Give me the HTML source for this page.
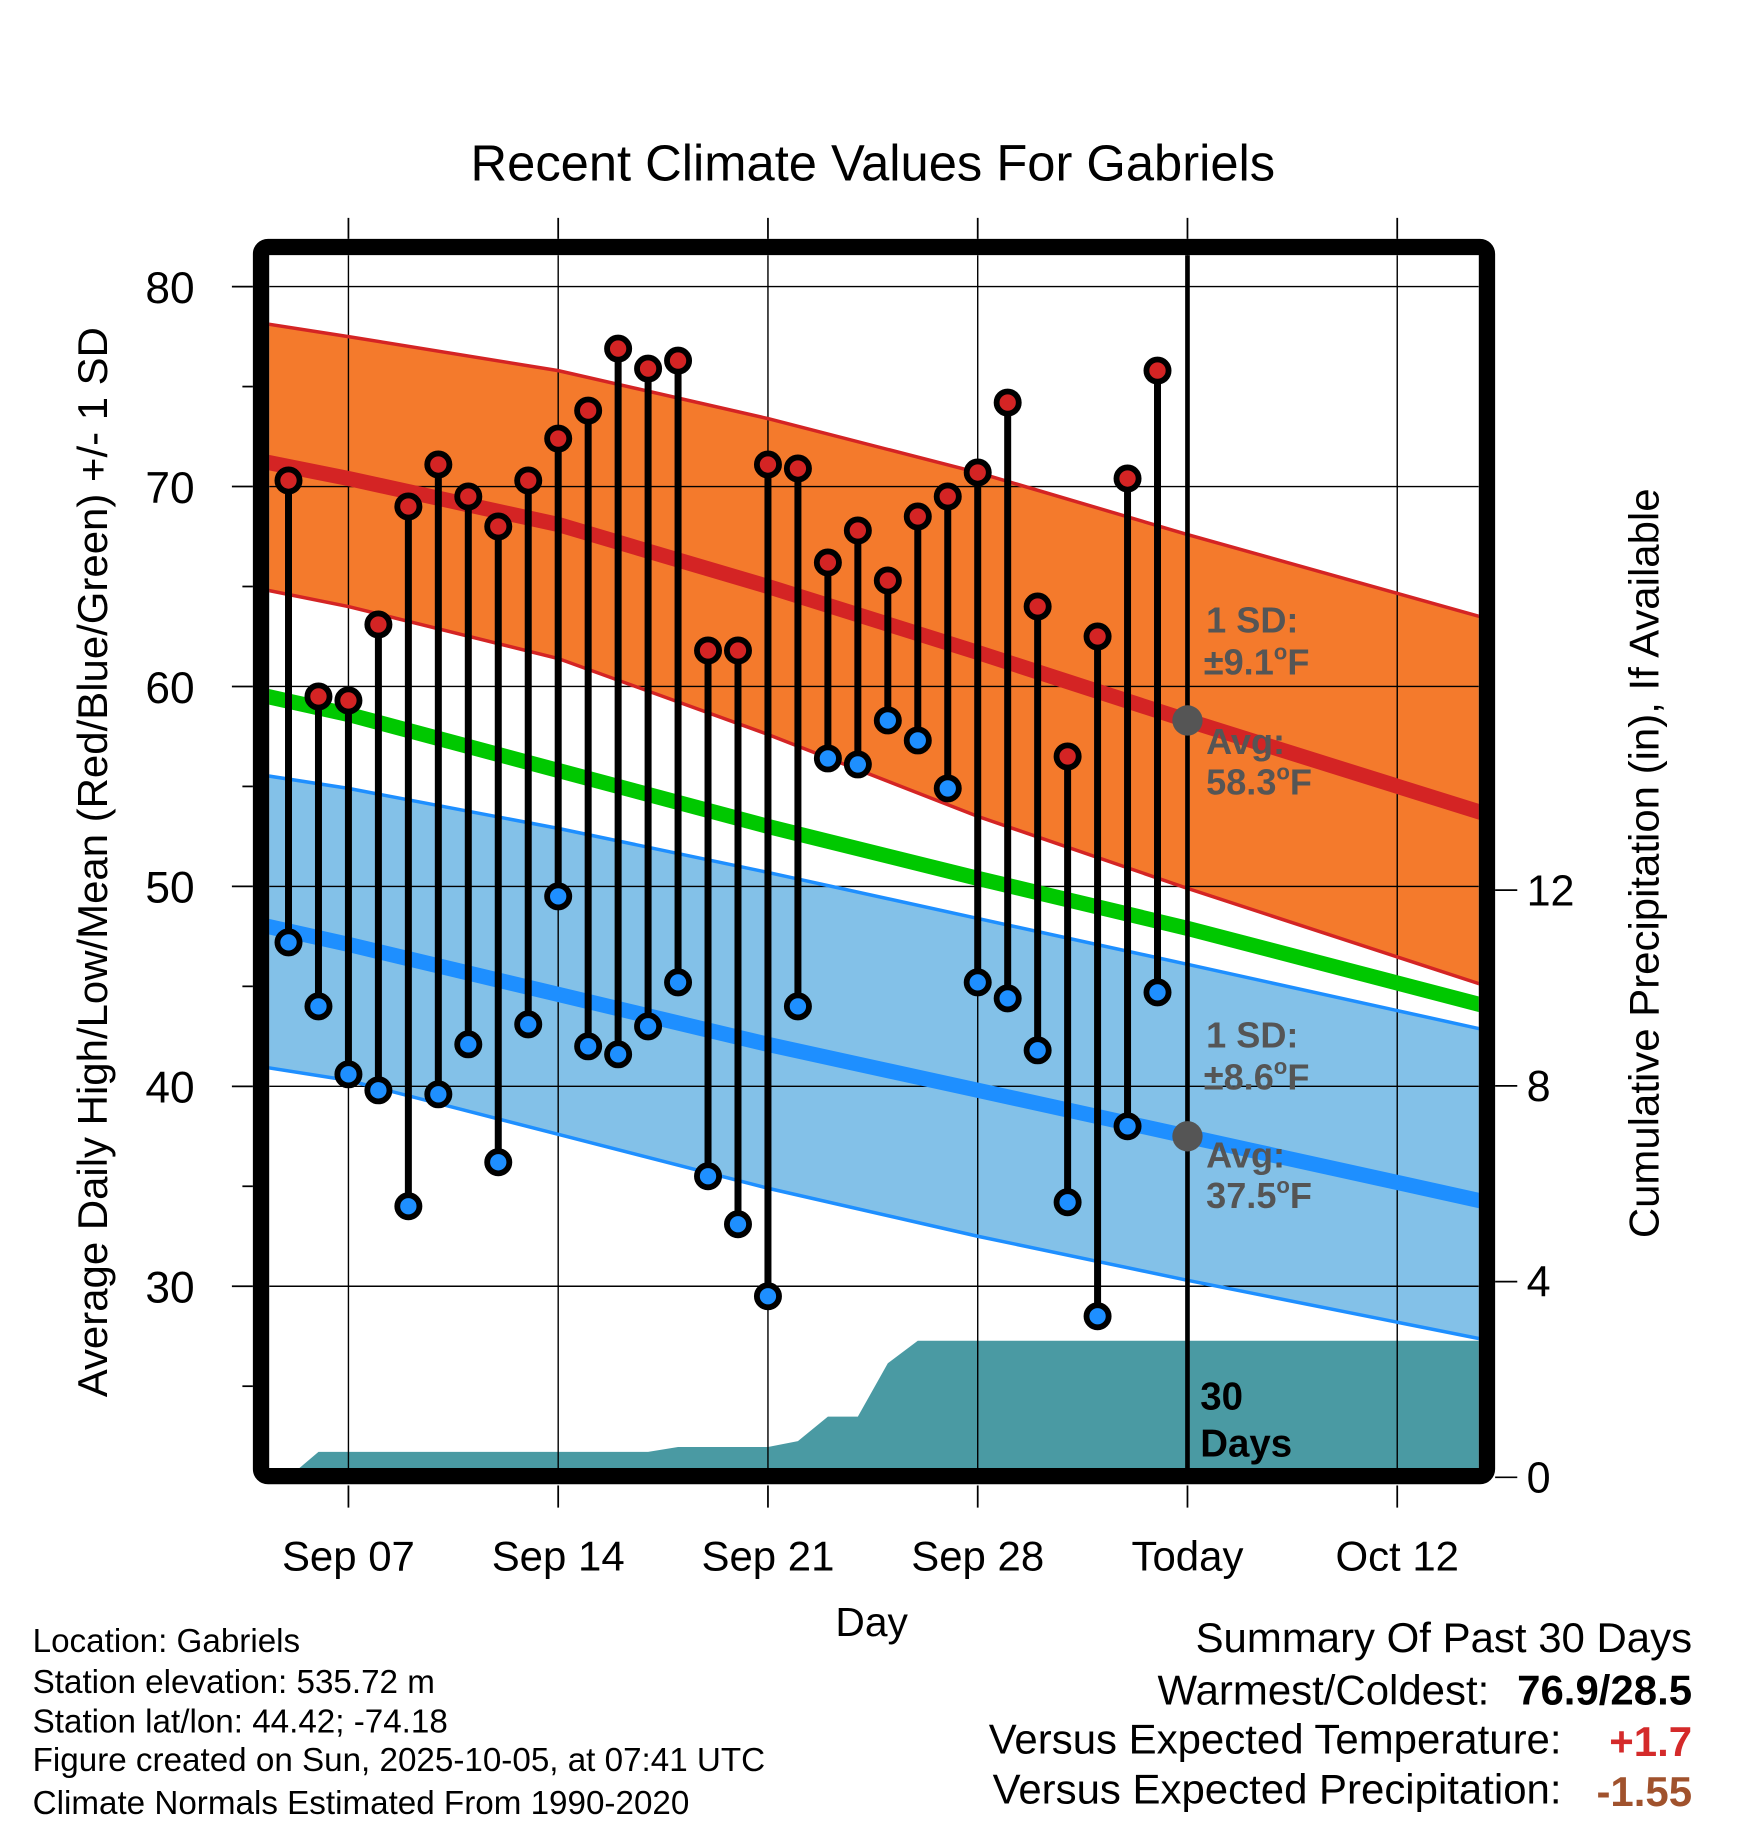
<!DOCTYPE html>
<html><head><meta charset="utf-8">
<style>
html,body{margin:0;padding:0;background:#fff;}
svg{display:block;font-family:"Liberation Sans",Arial,sans-serif;}
</style></head>
<body>
<svg id="chart" width="1748" height="1828" viewBox="0 0 1500 1569" preserveAspectRatio="none" xmlns="http://www.w3.org/2000/svg">
<rect x="0" y="0" width="1500" height="1569" fill="#fff"/>
<defs><clipPath id="plotclip"><rect x="231" y="219" width="1038" height="1041"/></clipPath></defs>
<g id="plot" clip-path="url(#plotclip)"></g>
<g id="axes"></g>
<text x="749" y="155" font-size="43.5" text-anchor="middle">Recent Climate Values For Gabriels</text>
<text transform="translate(92,740) rotate(-90)" font-size="36" text-anchor="middle">Average Daily High/Low/Mean (Red/Blue/Green) +/- 1 SD</text>
<text transform="translate(1423,741) rotate(-90)" font-size="36" text-anchor="middle">Cumulative Precipitation (in), If Available</text>
<text x="748" y="1404" font-size="35" text-anchor="middle">Day</text>
<g font-size="28.5">
<text x="28" y="1418">Location: Gabriels</text>
<text x="28" y="1453">Station elevation: 535.72 m</text>
<text x="28" y="1487">Station lat/lon: 44.42; -74.18</text>
<text x="28" y="1520">Figure created on Sun, 2025-10-05, at 07:41 UTC</text>
<text x="28" y="1557">Climate Normals Estimated From 1990-2020</text>
</g>
<g font-size="36" text-anchor="end">
<text x="1452" y="1418">Summary Of Past 30 Days</text>
<text x="1278" y="1463">Warmest/Coldest:</text>
<text x="1452" y="1463" font-weight="bold">76.9/28.5</text>
<text x="1340" y="1505">Versus Expected Temperature:</text>
<text x="1452" y="1507" font-weight="bold" fill="#d42a2a">+1.7</text>
<text x="1340" y="1548">Versus Expected Precipitation:</text>
<text x="1452" y="1550" font-weight="bold" fill="#a0522d">-1.55</text>
</g>
</svg>
<script>
// ---- data ----
const normDays = [-3, 0, 7, 14, 21, 28, 38]; // days relative to Sep 07
const hiUpper = [78.2, 77.5, 75.8, 73.4, 70.7, 67.6, 63.4];
const hiMean = [71.3, 70.4, 68.1, 65.0, 61.7, 58.3, 53.6];
const hiLower = [64.9, 64.0, 61.4, 57.6, 53.5, 49.9, 45.0];
const avgMean = [59.6, 58.6, 55.8, 53.0, 50.4, 47.9, 44.0];
const loUpper = [55.6, 54.9, 52.9, 50.7, 48.4, 46.1, 42.8];
const loMean = [48.1, 47.1, 44.6, 42.1, 39.8, 37.5, 34.2];
const loLower = [41.0, 40.3, 37.6, 34.9, 32.5, 30.3, 27.3];
const obsDays = [-2,-1,0,1,2,3,4,5,6,7,8,9,10,11,12,13,14,15,16,17,18,19,20,21,22,23,24,25,26,27];
const highs = [70.3,59.5,59.3,63.1,69.0,71.1,69.5,68.0,70.3,72.4,73.8,76.9,75.9,76.3,61.8,61.8,71.1,70.9,66.2,67.8,65.3,68.5,69.5,70.7,74.2,64.0,56.5,62.5,70.4,75.8];
const lows = [47.2,44.0,40.6,39.8,34.0,39.6,42.1,36.2,43.1,49.5,42.0,41.6,43.0,45.2,35.5,33.1,29.5,44.0,56.4,56.1,58.3,57.3,54.9,45.2,44.4,41.8,34.2,28.5,38.0,44.7];
const precipCum = [0,0.52,0.52,0.52,0.52,0.52,0.52,0.52,0.52,0.52,0.52,0.52,0.52,0.62,0.62,0.62,0.62,0.74,1.24,1.24,2.33,2.79,2.79,2.79,2.79,2.79,2.79,2.79,2.79,2.79];
const xTickDays = [0, 7, 14, 21, 28, 35];
const xTickLabels = ["Sep 07","Sep 14","Sep 21","Sep 28","Today","Oct 12"];
const yTicks = [30,40,50,60,70,80];
const y2Ticks = [0,4,8,12];
const todayDay = 28;

// ---- scales ----
const NS="http://www.w3.org/2000/svg";
const X = d => 299 + d*180/7;
const Y = t => 246 + (80-t)*17.16;
const Y2 = p => 1268 - p*42;
const L=231,R=1269,T=219,B=1260;
const plot=document.getElementById('plot'), axes=document.getElementById('axes');
function mk(tag, attrs, parent){const e=document.createElementNS(NS,tag);for(const k in attrs)e.setAttribute(k,attrs[k]);(parent||plot).appendChild(e);return e;}
function pts(days, vals){return days.map((d,i)=>X(d).toFixed(1)+','+Y(vals[i]).toFixed(1));}

let e;
e=mk('polygon',{points:pts(normDays,hiUpper).concat(pts(normDays,hiLower).reverse()).join(' '),fill:'#f47a2c'});


e=mk('polygon',{points:pts(normDays,loUpper).concat(pts(normDays,loLower).reverse()).join(' '),fill:'#83c1e8'});


{
  let p=[];
  p.push(X(obsDays[0]-0.1)+','+(B+5));
  obsDays.forEach((d,i)=>p.push(X(d)+','+Y2(precipCum[i])));
  p.push(X(40)+','+Y2(precipCum[precipCum.length-1]));
  p.push(X(40)+','+(B+5));
  e=mk('polygon',{points:p.join(' '),fill:'#4a9aa3'});
  
  
}
yTicks.forEach(t=>{e=mk('line',{x1:L,x2:R,y1:Y(t),y2:Y(t),stroke:'#000','stroke-width':1.2});

});
xTickDays.forEach(d=>{e=mk('line',{x1:X(d),x2:X(d),y1:T,y2:B,stroke:'#000','stroke-width':1.2});

});
function line(vals,color,w,name){e=mk('polyline',{points:pts(normDays,vals).join(' '),fill:'none',stroke:color,'stroke-width':w});

}
line(hiUpper,'#d42424',3,'high-upper-sd-line');
line(hiLower,'#d42424',3,'high-lower-sd-line');
line(loUpper,'#1e8fff',3,'low-upper-sd-line');
line(loLower,'#1e8fff',3,'low-lower-sd-line');
line(hiMean,'#d42424',13,'normal-high-line');
line(avgMean,'#00c800',13,'normal-mean-line');
line(loMean,'#1e8fff',13,'normal-low-line');
e=mk('line',{x1:X(todayDay),x2:X(todayDay),y1:T,y2:B,stroke:'#000','stroke-width':4});


obsDays.forEach((d,i)=>{
  e=mk('line',{x1:X(d),x2:X(d),y1:Y(highs[i]),y2:Y(lows[i]),stroke:'#000','stroke-width':6});
  
  
});
obsDays.forEach((d,i)=>{
  e=mk('circle',{cx:X(d),cy:Y(highs[i]),r:9.5,fill:'#d42424',stroke:'#000','stroke-width':5});
  
  
  e=mk('circle',{cx:X(d),cy:Y(lows[i]),r:9.5,fill:'#1e8fff',stroke:'#000','stroke-width':5});
  
  
});
e=mk('circle',{cx:X(todayDay),cy:Y(hiMean[5]),r:13,fill:'#555'});


e=mk('circle',{cx:X(todayDay),cy:Y(loMean[5]),r:13,fill:'#555'});


function txt(x,y,s,attrs,parent,name){const t=mk('text',Object.assign({x:x,y:y},attrs),parent);t.innerHTML=s;

return t;}
const ga={fill:'#555','font-size':31,'font-weight':'bold'};
const sup='<tspan dy="-13" font-size="19">o</tspan><tspan dy="13">F</tspan>';
txt(1035,543,'1 SD:',ga,plot,'high-sd-label');
txt(1033,579,'±9.1'+sup,ga,plot,'high-sd-value');
txt(1035,647,'Avg:',ga,plot,'high-avg-label');
txt(1035,682,'58.3'+sup,ga,plot,'high-avg-value');
txt(1035,899,'1 SD:',ga,plot,'low-sd-label');
txt(1033,935,'±8.6'+sup,ga,plot,'low-sd-value');
txt(1035,1002,'Avg:',ga,plot,'low-avg-label');
txt(1035,1037,'37.5'+sup,ga,plot,'low-avg-value');
const ba={fill:'#000','font-size':33,'font-weight':'bold'};
txt(1030,1210,'30',ba,plot,'precip-days-label');
txt(1030,1250,'Days',ba,plot,'precip-days-label-2');

e=mk('rect',{x:224,y:212,width:1052,height:1055,fill:'none',stroke:'#000','stroke-width':14,rx:6},axes);


for(let t=25;t<=80;t+=5){
  const major=t%10===0;
  e=mk('line',{x1:major?199:208,x2:217,y1:Y(t),y2:Y(t),stroke:'#000','stroke-width':1.5},axes);
  
  
}
yTicks.forEach(t=>{txt(167,Y(t)+14,String(t),{'font-size':38,'text-anchor':'end'},axes,'y-tick-label');});
y2Ticks.forEach(p=>{
  e=mk('line',{x1:1283,x2:1302,y1:Y2(p),y2:Y2(p),stroke:'#000','stroke-width':1.5},axes);
  
  
  txt(1310,Y2(p)+13,String(p),{'font-size':37},axes,'y2-tick-label');
});
xTickDays.forEach((d,i)=>{
  e=mk('line',{x1:X(d),x2:X(d),y1:187,y2:205,stroke:'#000','stroke-width':1.5},axes);
  
  
  e=mk('line',{x1:X(d),x2:X(d),y1:1275,y2:1294,stroke:'#000','stroke-width':1.5},axes);
  
  
  txt(X(d),1348,xTickLabels[i],{'font-size':36,'text-anchor':'middle'},axes,'x-tick-label');
});
</script>
</body></html>
